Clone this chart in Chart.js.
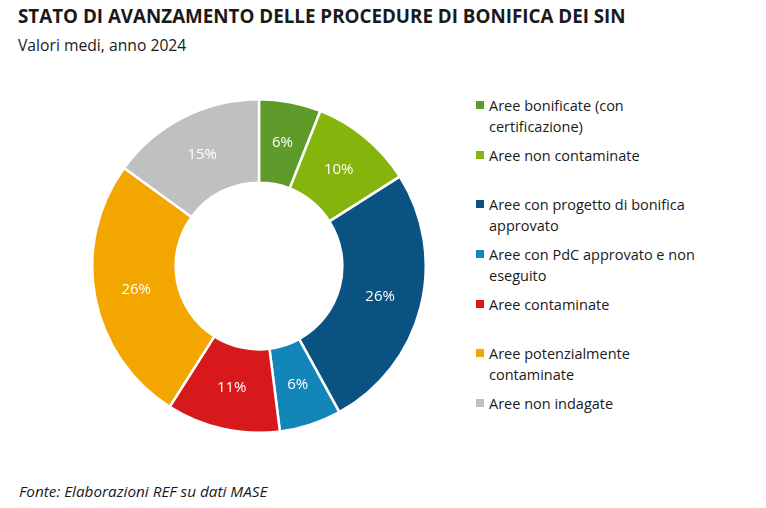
<!DOCTYPE html>
<html>
<head>
<meta charset="utf-8">
<script src="https://cdn.jsdelivr.net/npm/chart.js@4.4.1/dist/chart.umd.min.js"></script>
<style>
    body { margin: 0; background: #fff; font-family: "Open Sans", "Noto Sans", sans-serif; color: #1a1a1a; }
    #page { position: relative; width: 766px; height: 508px; overflow: hidden; }
    #title { position: absolute; left: 18px; top: 3px; font-size: 18.8px; font-weight: 700; white-space: nowrap; }
    #subtitle { position: absolute; left: 18px; top: 34px; font-size: 15.7px; white-space: nowrap; }
    #chartBox { position: absolute; left: 91px; top: 98px; width: 336px; height: 336px; }
    #legend { position: absolute; left: 476px; top: 95px; font-size: 14.5px; line-height: 21px; }
    .item { display: flex; align-items: flex-start; margin-bottom: 8px; white-space: pre-line; }
    .item.gap { margin-bottom: 28px; }
    .box { width: 8px; height: 8px; margin: 6px 5px 0 0; flex: none; }
    #source { position: absolute; left: 19px; top: 481px; font-size: 15.3px; font-style: italic; }
</style>
</head>
<body>
<div id="page">
    <div id="title">STATO DI AVANZAMENTO DELLE PROCEDURE DI BONIFICA DEI SIN</div>
    <div id="subtitle">Valori medi, anno 2024</div>
    <div id="chartBox"><canvas id="donut"></canvas></div>
    <div id="legend"></div>
    <div id="source">Fonte: Elaborazioni REF su dati MASE</div>
</div>
<script>
// --- Data ---
const categories = [
    'Aree bonificate (con\ncertificazione)',
    'Aree non contaminate',
    'Aree con progetto di bonifica\napprovato',
    'Aree con PdC approvato e non\neseguito',
    'Aree contaminate',
    'Aree potenzialmente\ncontaminate',
    'Aree non indagate'
];
const shares = [6, 10, 26, 6, 11, 26, 15];
const colors = ['#5e9b2b', '#85b40c', '#0a5281', '#1386b9', '#d7191c', '#f3a600', '#bfc0c1'];

// --- Legend (HTML, to get the wrapped lines) ---
const legendDiv = document.getElementById('legend');
categories.forEach((label, i) => {
    const item = document.createElement('div');
    item.className = 'item' + (i === 1 || i === 4 ? ' gap' : '');
    const box = document.createElement('span');
    box.className = 'box';
    box.style.background = colors[i];
    const txt = document.createElement('span');
    txt.textContent = label;
    item.appendChild(box);
    item.appendChild(txt);
    legendDiv.appendChild(item);
});

// --- Percent labels inside the slices ---
const sliceLabels = {
    id: 'sliceLabels',
    afterDatasetsDraw(chart) {
        const ctx = chart.ctx;
        const meta = chart.getDatasetMeta(0);
        ctx.save();
        ctx.fillStyle = '#fff';
        ctx.font = '15px "Open Sans", sans-serif';
        ctx.textAlign = 'center';
        ctx.textBaseline = 'middle';
        meta.data.forEach((arc, i) => {
            const p = arc.tooltipPosition();
            ctx.fillText(chart.data.datasets[0].data[i] + '%', p.x, p.y);
        });
        ctx.restore();
    }
};

new Chart(document.getElementById('donut'), {
    type: 'doughnut',
    data: {
        labels: categories,
        datasets: [{
            data: shares,
            backgroundColor: colors,
            borderColor: '#fff',
            borderWidth: 2.5
        }]
    },
    options: {
        responsive: true,
        maintainAspectRatio: false,
        animation: false,
        cutout: '50%',
        layout: { padding: 0 },
        plugins: {
            legend: { display: false },
            tooltip: { enabled: false }
        }
    },
    plugins: [sliceLabels]
});
</script>
</body>
</html>
